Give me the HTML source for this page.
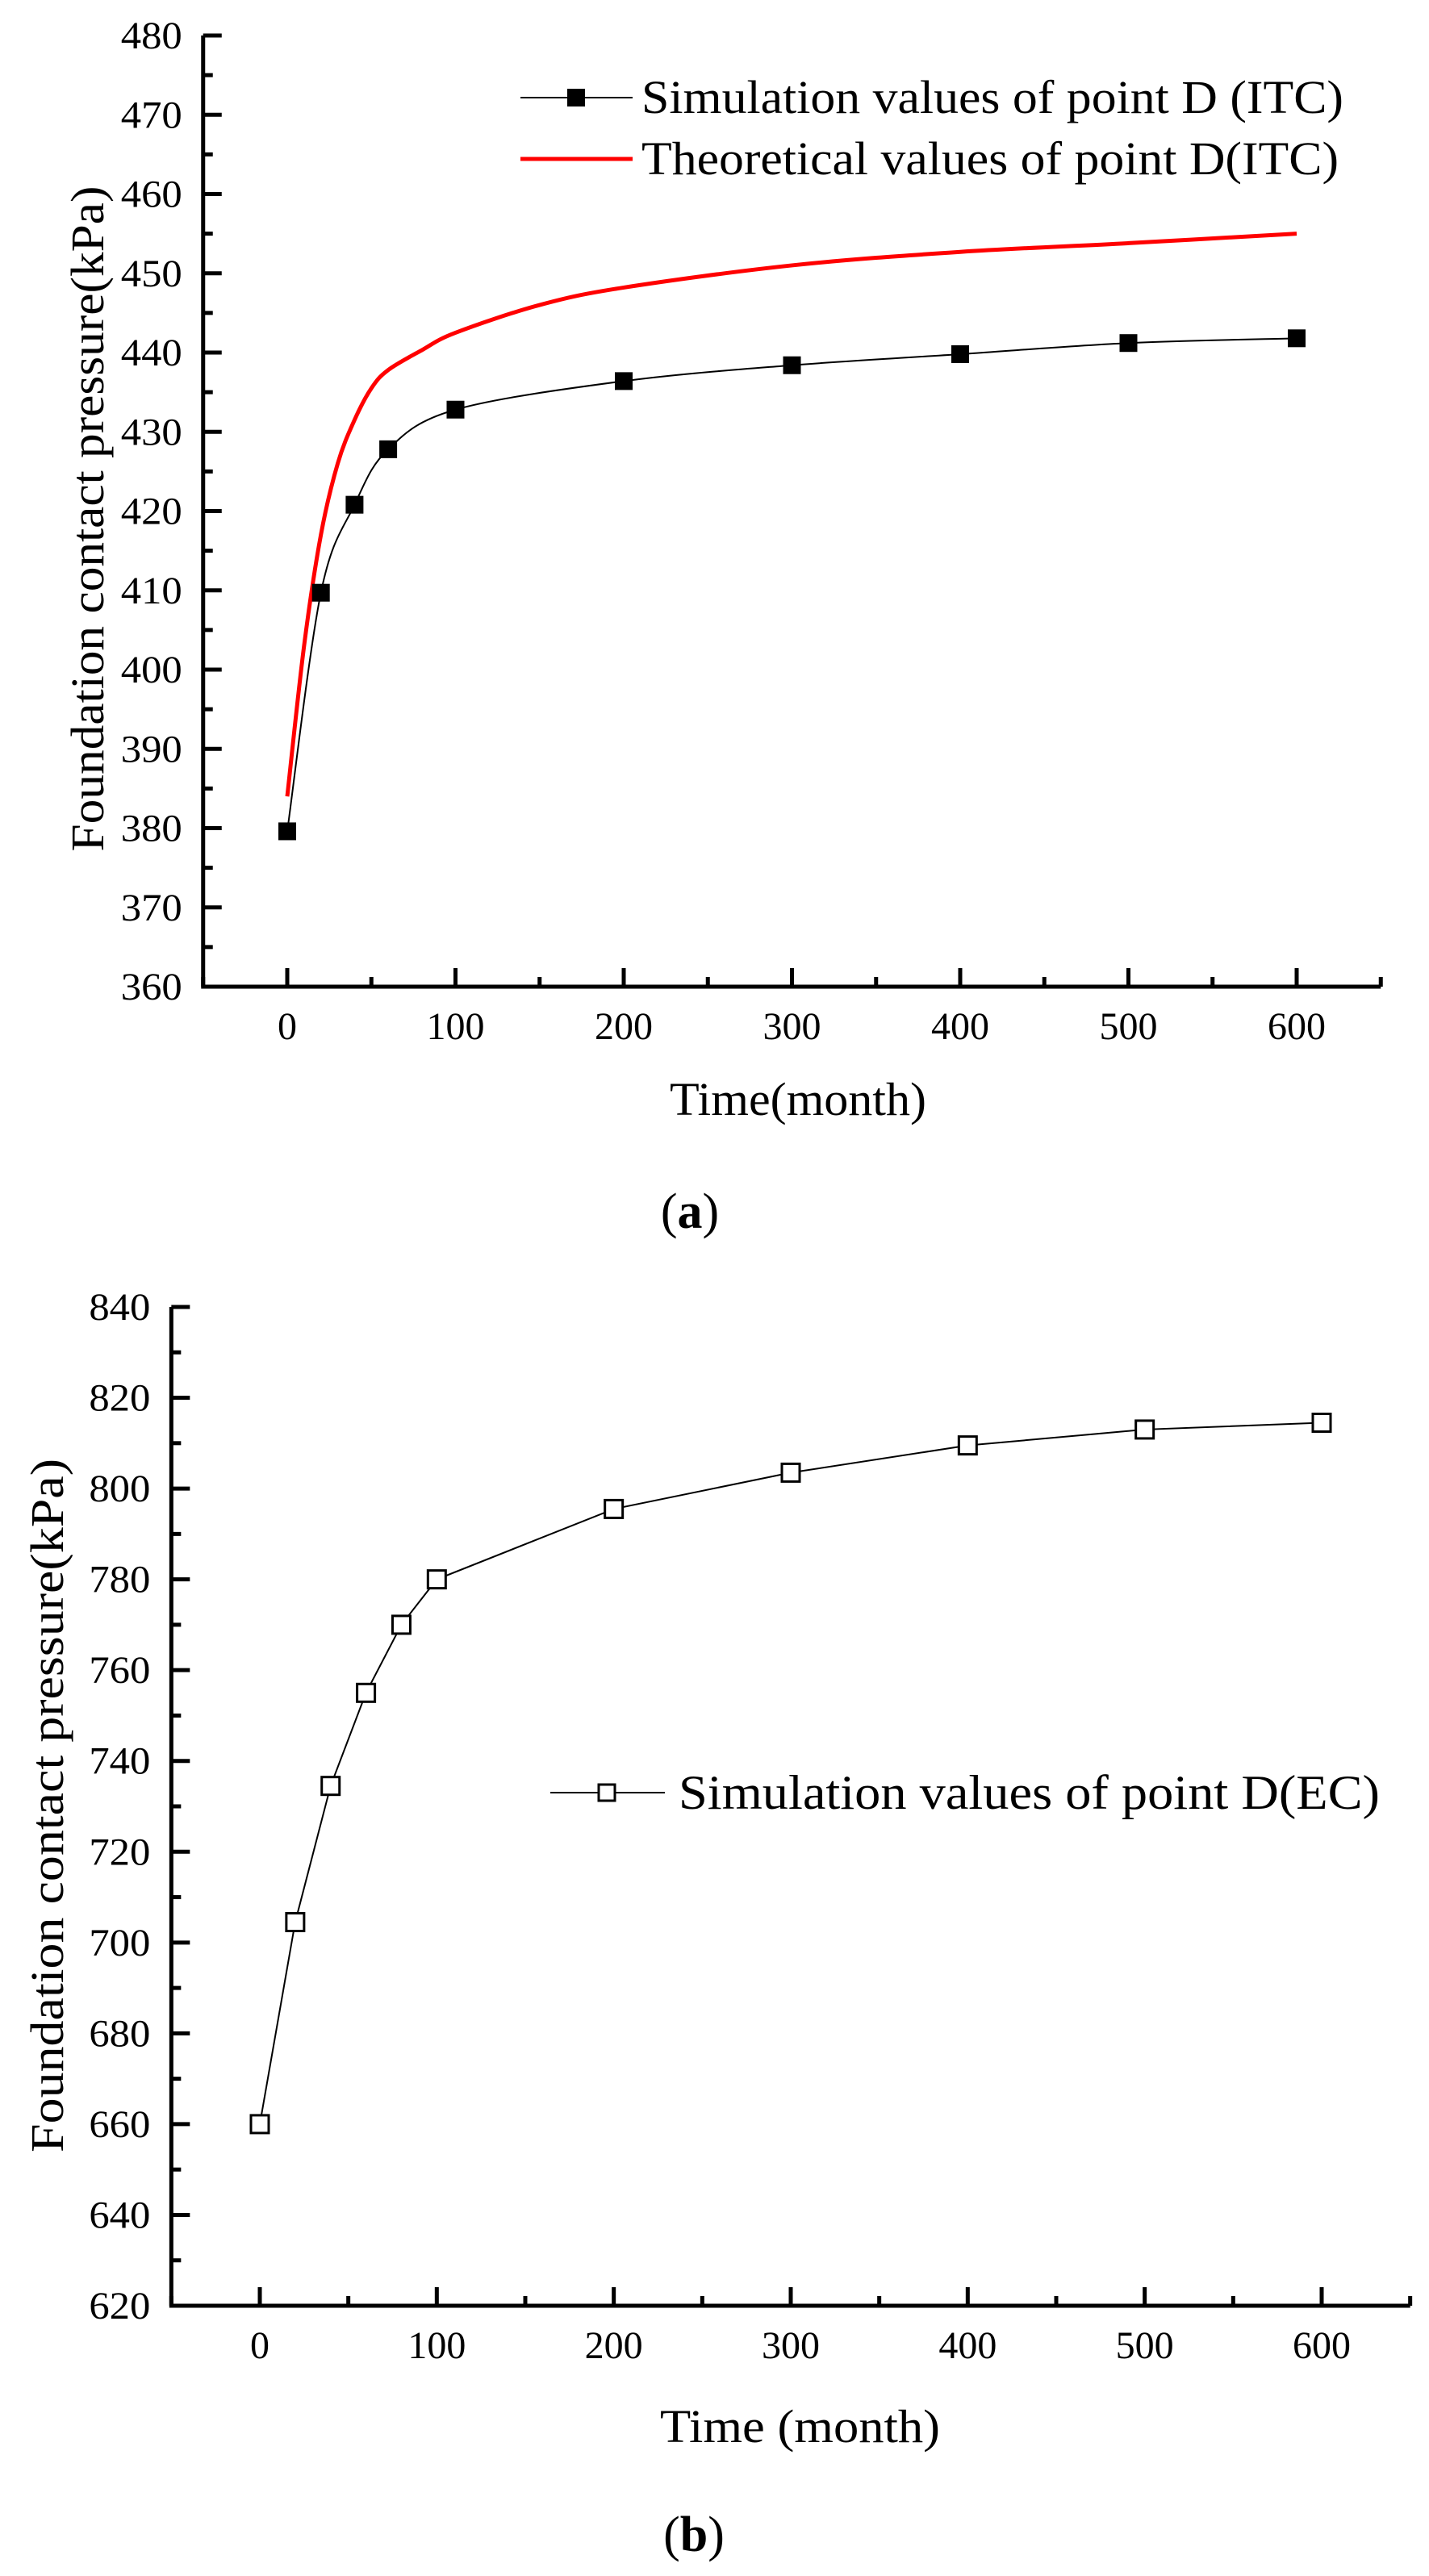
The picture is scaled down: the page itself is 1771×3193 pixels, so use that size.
<!DOCTYPE html>
<html><head><meta charset="utf-8"><style>
html,body{margin:0;padding:0;background:#fff;}
svg{display:block;font-family:"Liberation Serif",serif;}
</style></head><body>
<svg id="s" width="1771" height="3193" viewBox="0 0 1771 3193" xmlns="http://www.w3.org/2000/svg"></svg>
<script>
// Chart (a) data
const aSimX = [0, 20, 40, 60, 100, 200, 300, 400, 500, 600];
const aSimY = [379.6, 409.7, 420.8, 427.8, 432.8, 436.4, 438.4, 439.8, 441.2, 441.8];
const aTheoX = [0, 10, 20, 30, 40, 50, 60, 80, 100, 150, 200, 300, 400, 500, 600];
const aTheoY = [384, 403, 417, 426, 431.5, 435.5, 437.8, 440.3, 442.5, 446, 448.2, 451, 452.7, 453.8, 455];
const aYTicks = [360, 370, 380, 390, 400, 410, 420, 430, 440, 450, 460, 470, 480];
const xTicks = [0, 100, 200, 300, 400, 500, 600];
// Chart (b) data
const bSimX = [0, 20, 40, 60, 80, 100, 200, 300, 400, 500, 600];
const bSimY = [660, 704.5, 734.5, 755, 770, 780, 795.5, 803.5, 809.5, 813, 814.5];
const bYTicks = [620, 640, 660, 680, 700, 720, 740, 760, 780, 800, 820, 840];

const NS = "http://www.w3.org/2000/svg";
const svg = document.getElementById('s');
function mk(tag, attrs, parent) {
  const e = document.createElementNS(NS, tag);
  for (const k in attrs) e.setAttribute(k, attrs[k]);
  (parent || svg).appendChild(e);
  return e;
}
function smooth(pts) {
  let d = `M${pts[0][0]},${pts[0][1]}`;
  for (let i = 0; i < pts.length - 1; i++) {
    const p0 = pts[Math.max(0, i - 1)], p1 = pts[i], p2 = pts[i + 1], p3 = pts[Math.min(pts.length - 1, i + 2)];
    const c1x = p1[0] + (p2[0] - p0[0]) / 6, c1y = p1[1] + (p2[1] - p0[1]) / 6;
    const c2x = p2[0] - (p3[0] - p1[0]) / 6, c2y = p2[1] - (p3[1] - p1[1]) / 6;
    d += ` C${c1x},${c1y} ${c2x},${c2y} ${p2[0]},${p2[1]}`;
  }
  return d;
}
function axes(g, o) {
  const sx = v => o.x0 + (v - 0) * (o.x600 - o.x0) / 600;
  const sy = v => o.yb + (v - o.ymin) * (o.yt - o.yb) / (o.ymax - o.ymin);
  const L = sx(-50), R = sx(650);
  let a = mk('path', {d: `M${L},${o.yt} V${o.yb} H${R}`, fill: 'none', stroke: '#000', 'stroke-width': 5}, g);
  
  
  const step = o.yTicks[1] - o.yTicks[0];
  o.yTicks.forEach((v, i) => {
    mk('line', {x1: L, x2: L + 23, y1: sy(v), y2: sy(v), stroke: '#000', 'stroke-width': 5}, g);
    if (i < o.yTicks.length - 1) mk('line', {x1: L, x2: L + 12, y1: sy(v + step / 2), y2: sy(v + step / 2), stroke: '#000', 'stroke-width': 5}, g);
    const t = mk('text', {x: L - 26, y: sy(v) + 16, 'font-size': 48, 'text-anchor': 'end', textLength: 76, lengthAdjust: 'spacingAndGlyphs'}, g);
    t.textContent = v;
    
    
  });
  xTicks.forEach(v => {
    mk('line', {x1: sx(v), x2: sx(v), y1: o.yb, y2: o.yb - 23, stroke: '#000', 'stroke-width': 5}, g);
    mk('line', {x1: sx(v + 50), x2: sx(v + 50), y1: o.yb, y2: o.yb - 12, stroke: '#000', 'stroke-width': 5}, g);
    const t = mk('text', {x: sx(v), y: o.xly, 'font-size': 48, 'text-anchor': 'middle'}, g);
    t.textContent = v;
    
    
  });
  mk('line', {x1: sx(-50), x2: sx(-50), y1: o.yb, y2: o.yb - 12, stroke: '#000', 'stroke-width': 5}, g);
  return {sx, sy};
}

// ---- Chart (a)
const ga = mk('g', {});


const A = axes(ga, {x0: 356, x600: 1607, yt: 44, yb: 1223, ymin: 360, ymax: 480, yTicks: aYTicks, xly: 1288});
const theo = mk('path', {d: smooth(aTheoX.map((x, i) => [A.sx(x), A.sy(aTheoY[i])])), fill: 'none', stroke: '#f00', 'stroke-width': 5}, ga);


const simA = mk('path', {d: smooth(aSimX.map((x, i) => [A.sx(x), A.sy(aSimY[i])])), fill: 'none', stroke: '#000', 'stroke-width': 2}, ga);


aSimX.forEach((x, i) => {
  const r = mk('rect', {x: A.sx(x) - 11, y: A.sy(aSimY[i]) - 11, width: 22, height: 22, fill: '#000'}, ga);
  
  
});
let t;
t = mk('text', {x: 0, y: 0, 'font-size': 58, 'text-anchor': 'middle', transform: 'translate(128,643) rotate(-90)', textLength: 825, lengthAdjust: 'spacingAndGlyphs'}, ga);
t.textContent = 'Foundation contact pressure(kPa)';


t = mk('text', {x: 830, y: 1382, 'font-size': 58, textLength: 318, lengthAdjust: 'spacingAndGlyphs'}, ga);
t.textContent = 'Time(month)';


// legend a
mk('line', {x1: 645, x2: 784, y1: 121, y2: 121, stroke: '#000', 'stroke-width': 2}, ga);
mk('rect', {x: 703, y: 110, width: 22, height: 22, fill: '#000'}, ga);
t = mk('text', {x: 795, y: 140, 'font-size': 58, textLength: 870, lengthAdjust: 'spacingAndGlyphs'}, ga);
t.textContent = 'Simulation values of point D (ITC)';


mk('line', {x1: 645, x2: 784, y1: 197, y2: 197, stroke: '#f00', 'stroke-width': 5}, ga);
t = mk('text', {x: 795, y: 216, 'font-size': 58, textLength: 864, lengthAdjust: 'spacingAndGlyphs'}, ga);
t.textContent = 'Theoretical values of point D(ITC)';


t = mk('text', {x: 855, y: 1522, 'font-size': 62, 'text-anchor': 'middle'}, ga);
t.innerHTML = '(<tspan font-weight="bold">a</tspan>)';



// ---- Chart (b)
const gb = mk('g', {});


const B = axes(gb, {x0: 322, x600: 1638, yt: 1620, yb: 2858, ymin: 620, ymax: 840, yTicks: bYTicks, xly: 2923});
const simB = mk('polyline', {points: bSimX.map((x, i) => `${B.sx(x)},${B.sy(bSimY[i])}`).join(' '), fill: 'none', stroke: '#000', 'stroke-width': 2}, gb);


bSimX.forEach((x, i) => {
  const r = mk('rect', {x: B.sx(x) - 11, y: B.sy(bSimY[i]) - 11, width: 22, height: 22, fill: '#fff', stroke: '#000', 'stroke-width': 3}, gb);
  
  
});
t = mk('text', {x: 0, y: 0, 'font-size': 58, 'text-anchor': 'middle', transform: 'translate(78,2238) rotate(-90)', textLength: 860, lengthAdjust: 'spacingAndGlyphs'}, gb);
t.textContent = 'Foundation contact pressure(kPa)';


t = mk('text', {x: 818, y: 3027, 'font-size': 58, textLength: 347, lengthAdjust: 'spacingAndGlyphs'}, gb);
t.textContent = 'Time (month)';


mk('line', {x1: 682, x2: 824, y1: 2222, y2: 2222, stroke: '#000', 'stroke-width': 2}, gb);
mk('rect', {x: 742, y: 2212, width: 20, height: 20, fill: '#fff', stroke: '#000', 'stroke-width': 3}, gb);
t = mk('text', {x: 841, y: 2242, 'font-size': 60, textLength: 869, lengthAdjust: 'spacingAndGlyphs'}, gb);
t.textContent = 'Simulation values of point D(EC)';


t = mk('text', {x: 860, y: 3162, 'font-size': 62, 'text-anchor': 'middle'}, gb);
t.innerHTML = '(<tspan font-weight="bold">b</tspan>)';


</script>
</body></html>
